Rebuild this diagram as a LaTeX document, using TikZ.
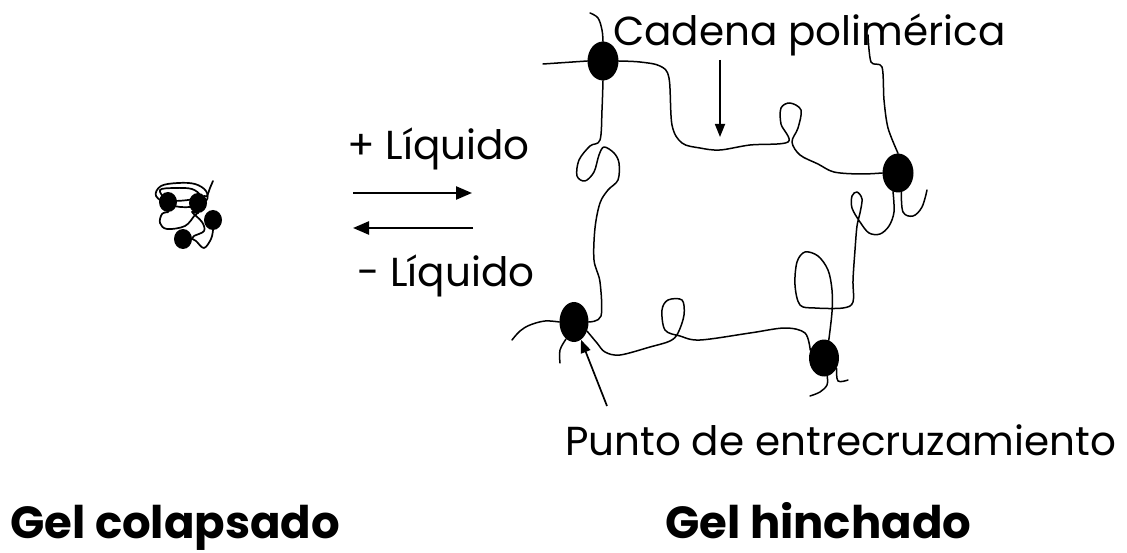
\documentclass[tikz,border=0pt]{standalone}
\usepackage{fontspec}
\setmainfont{Poppins}
\usetikzlibrary{shapes.geometric,arrows.meta}

\tikzset{
  xlink/.style={ellipse, fill=black, inner sep=0pt, minimum width=31pt, minimum height=39pt},
  smalllink/.style={ellipse, fill=black, inner sep=0pt, minimum width=18pt, minimum height=20pt},
  chain/.style={line width=1.5pt, line cap=round, line join=round},
  tangle/.style={line width=1.7pt, line cap=round, line join=round},
  label/.style={anchor=base west, inner sep=0pt, font=\fontsize{40.5}{44}\selectfont},
  title/.style={anchor=base west, inner sep=0pt, font=\fontsize{45}{50}\selectfont\bfseries},
  pointer/.style={line width=1.7pt, -{Triangle[length=13pt,width=10pt]}},
  flow/.style={line width=2.4pt, -{Triangle[length=16pt,width=13pt]}},
}

\begin{document}
\begin{tikzpicture}[x=1pt,y=-1pt]
\useasboundingbox (0,0) rectangle (1127,553);

% ---------- collapsed gel ----------
\node[smalllink] (g1) at (168,202) {};
\node[smalllink] (g2) at (198,203) {};
\node[smalllink] (g3) at (213,220) {};
\node[smalllink] (g4) at (183,239) {};
\draw[tangle] plot[smooth cycle, tension=0.6] coordinates {(156,196) (161,186) (178,183) (195,184) (206,191) (206,201) (190,207) (170,205)};
\draw[tangle] plot[smooth cycle, tension=0.6] coordinates {(160,190) (175,188) (192,189) (200,196) (188,200) (168,200)};
\draw[tangle] plot[smooth, tension=0.6] coordinates {(g1.south) (162,214) (160,223) (167,229) (185,226) (195,215) (g2.south)};
\draw[tangle] plot[smooth, tension=0.6] coordinates {(g2.south) (192,212) (202,222) (204,231) (194,236) (g4.east)};
\draw[tangle] plot[smooth, tension=0.6] coordinates {(g4.east) (196,241) (204,248) (211,239) (g3.south)};
\draw[tangle] plot[smooth, tension=0.6] coordinates {(g2.north east) (207,196) (210,188) (213,181)};

% ---------- reaction arrows ----------
\coordinate (r1a) at (353,193);
\coordinate (r1b) at (472,193);
\coordinate (r2a) at (473,228);
\coordinate (r2b) at (353,228);
\draw[flow] (r1a) -- (r1b);
\draw[flow] (r2a) -- (r2b);
\node[label] (plus) at (347,160) {+ Líquido};
\node[label] (minus) at (357,287) {- Líquido};

% ---------- swollen network: cross-links ----------
\node[xlink] (A) at (603,61) {};
\node[xlink] (B) at (898,173) {};
\node[xlink, minimum width=29pt, minimum height=40pt] (C) at (574,322) {};
\node[xlink, minimum width=30pt, minimum height=37pt] (D) at (824,358) {};

% chains between cross-links
\draw[chain] plot[smooth, tension=0.55] coordinates {(A.east) (640,62) (660,66) (669,78) (672,125) (682,143) (700,148) (720,150) (750,145) (788,142) (781,124) (781,108) (790,103) (801,110) (798,128) (792,142) (800,155) (818,164) (834,172) (860,174) (B.west)};
\draw[chain] plot[smooth, tension=0.55] coordinates {(A.south) (602,110) (600,140) (590,146) (579,160) (577,176) (585,181) (594,172) (599,155) (604,147) (614,153) (619,163) (618,180) (608,190) (600,203) (595,228) (594,260) (600,282) (601,316) (C.east)};
\draw[chain] plot[smooth, tension=0.55] coordinates {(B.-105) (894,212) (889,226) (880,234) (869,233) (860,222) (852,208) (852,196) (857,192) (862,199) (860,213) (857,226) (855,250) (853,280) (853,302) (843,308) (815,308) (800,305) (795,285) (797,262) (805,252) (818,256) (828,270) (832,290) (832,312) (D.75)};
\draw[chain] plot[smooth, tension=0.55] coordinates {(D.150) (805,333) (785,328) (750,333) (700,340) (680,336) (665,330) (662,310) (668,300) (682,300) (684,315) (678,333) (670,341) (650,347) (620,355) (605,352) (597,343) (C.-35)};

% loose chain ends
\coordinate (tA1) at (543,64);
\coordinate (tA2) at (590,13);
\coordinate (tB1) at (868,35);
\coordinate (tB2) at (927,190);
\coordinate (tC1) at (512,340);
\coordinate (tC2) at (560,363);
\coordinate (tD1) at (810,396);
\coordinate (tD2) at (848,380);
\draw[chain] (A.west) -- (tA1);
\draw[chain] plot[smooth, tension=0.6] coordinates {(A.north) (602,30) (598,18) (tA2)};
\draw[chain] plot[smooth, tension=0.5] coordinates {(B.north) (888,128) (884,100) (882,67) (871,62) (tB1)};
\draw[chain] plot[smooth, tension=0.6] coordinates {(B.-80) (903,212) (913,216) (922,207) (tB2)};
\draw[chain] plot[smooth, tension=0.6] coordinates {(C.west) (545,321) (530,325) (520,331) (tC1)};
\draw[chain] plot[smooth, tension=0.6] coordinates {(C.-115) (560,350) (tC2)};
\draw[chain] plot[smooth, tension=0.6] coordinates {(D.-80) (827,385) (820,392) (tD1)};
\draw[chain] plot[smooth, tension=0.6] coordinates {(D.-40) (838,381) (tD2)};

% ---------- annotations ----------
\node[label] (chainlbl) at (613,46) {Cadena polimérica};
\coordinate (pc1) at (720,60);
\coordinate (pc2) at (720,137);
\draw[pointer] (pc1) -- (pc2);

\node[label] (xlinklbl) at (565,455) {Punto de entrecruzamiento};
\coordinate (px1) at (607,406);
\draw[pointer] (px1) -- (C);

% ---------- titles ----------
\node[title] (t1) at (10,538) {Gel colapsado};
\node[title] (t2) at (665,538) {Gel hinchado};
\end{tikzpicture}
\end{document}
